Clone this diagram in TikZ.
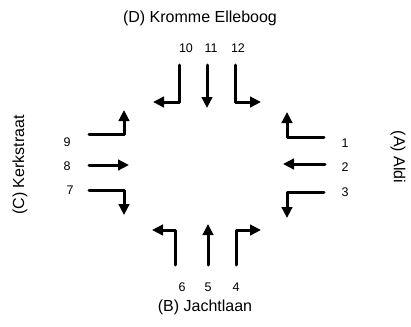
\documentclass[tikz,border=0pt]{standalone}
\usepackage{fontspec}
\setmainfont{Liberation Sans}
\usetikzlibrary{arrows.meta}
\begin{document}
\begin{tikzpicture}[x=1bp,y=-1bp,
  arr/.style={line width=3bp,line cap=round,line join=round,-{Triangle[length=11bp,width=10.5bp,line cap=butt]}},
  num/.style={font=\fontsize{12.5bp}{14bp}\selectfont,inner sep=0pt},
  title/.style={font=\fontsize{16bp}{18bp}\selectfont,inner sep=0pt}]
\useasboundingbox (0,0) rectangle (411,327);
% titles
\node[title] (tD) at (200,18) {(D) Kromme Elleboog};
\node[title] (tB) at (205,307) {(B) Jachtlaan};
\node[title,rotate=90] (tC) at (20,165) {(C) Kerkstraat};
\node[title,rotate=-90] (tA) at (398,157) {(A) Aldi};
% top
\coordinate (s10) at (179,65); \coordinate (c10) at (179,102); \coordinate (e10) at (153,102);
\coordinate (s11) at (207,65); \coordinate (e11) at (207,108);
\coordinate (s12) at (235,65); \coordinate (c12) at (235,102); \coordinate (e12) at (261,102);
\draw[arr] (s10) -- (c10) -- (e10);
\draw[arr] (s11) -- (e11);
\draw[arr] (s12) -- (c12) -- (e12);
\node[num] (n10) at (186,48) {10};
\node[num] (n11) at (211,48) {11};
\node[num] (n12) at (238,48) {12};
% right
\coordinate (s1) at (324,137); \coordinate (c1) at (287,137); \coordinate (e1) at (287,112);
\coordinate (s2) at (325,164); \coordinate (e2) at (283,164);
\coordinate (s3) at (324,192); \coordinate (c3) at (287,192); \coordinate (e3) at (287,218);
\draw[arr] (s1) -- (c1) -- (e1);
\draw[arr] (s2) -- (e2);
\draw[arr] (s3) -- (c3) -- (e3);
\node[num] (n1) at (345,143) {1};
\node[num] (n2) at (345,167) {2};
\node[num] (n3) at (345,192) {3};
% left
\coordinate (s9) at (89,134); \coordinate (c9) at (124,134); \coordinate (e9) at (124,110);
\coordinate (s8) at (89,165); \coordinate (e8) at (129,165);
\coordinate (s7) at (89,190); \coordinate (c7) at (124,190); \coordinate (e7) at (124,215);
\draw[arr] (s9) -- (c9) -- (e9);
\draw[arr] (s8) -- (e8);
\draw[arr] (s7) -- (c7) -- (e7);
\node[num] (n9) at (67,142) {9};
\node[num] (n8) at (67,166) {8};
\node[num] (n7) at (70,190) {7};
% bottom
\coordinate (s6) at (175,265); \coordinate (c6) at (175,230); \coordinate (e6) at (152,230);
\coordinate (s5) at (208,265); \coordinate (e5) at (208,224);
\coordinate (s4) at (236,265); \coordinate (c4) at (236,230); \coordinate (e4) at (261,230);
\draw[arr] (s6) -- (c6) -- (e6);
\draw[arr] (s5) -- (e5);
\draw[arr] (s4) -- (c4) -- (e4);
\node[num] (n6) at (182,287) {6};
\node[num] (n5) at (208,287) {5};
\node[num] (n4) at (236,287) {4};
\end{tikzpicture}
\end{document}
